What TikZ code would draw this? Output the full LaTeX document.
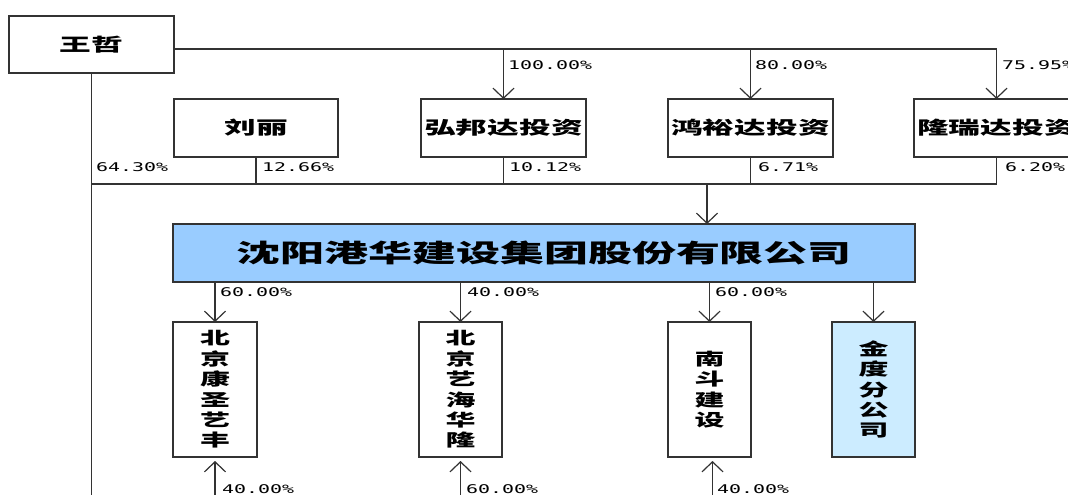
\documentclass[tikz,border=0pt]{standalone}
\usepackage{fontspec}
\usetikzlibrary{arrows.meta}
\newfontfamily\cjk{Noto Sans CJK SC}[FakeStretch=1.76]
\newfontfamily\pctf{DejaVu Sans Mono}[FakeStretch=1.66]
\definecolor{bigblue}{HTML}{99CCFF}
\definecolor{paleblue}{HTML}{CCECFF}
\definecolor{lncol}{HTML}{333333}
\begin{document}
\begin{tikzpicture}[x=1pt,y=-1pt,
  ln/.style={draw=lncol,line width=1.2pt},
  arr/.style={-{Straight Barb[length=10pt,width=21pt]}},
  hbox/.style={draw=lncol,line width=1.2pt,fill=white,inner sep=0pt,outer sep=0pt,
    anchor=north west,minimum height=58pt,minimum width=165pt,
    font=\cjk\bfseries\fontsize{18}{20}\selectfont},
  vbox/.style={draw=lncol,line width=1.2pt,fill=white,inner sep=0pt,outer sep=0pt,
    anchor=north west,minimum height=135pt,minimum width=84pt,align=center,
    font=\cjk\bfseries\fontsize{17}{20.4}\selectfont},
  bigbox/.style={draw=lncol,line width=1.2pt,fill=bigblue,inner sep=0pt,outer sep=0pt,
    anchor=north west,minimum height=58pt,minimum width=742pt,
    font=\cjk\bfseries\fontsize{25}{28}\selectfont},
  pct/.style={anchor=west,inner sep=0pt,font=\pctf\fontsize{12}{14}\selectfont}
]
\useasboundingbox (0,0) rectangle (1068,495);
\fill[white] (0,0) rectangle (1068,495);
\clip (0,0) rectangle (1068,495);

% helper levels
\coordinate (ytop) at (0,49);
\coordinate (yj) at (0,184);
\coordinate (ybot) at (0,500);
\coordinate (xj) at (707,0);

% nodes
\node[hbox,minimum height=57pt] (wz) at (9,16) {王哲};
\node[hbox,minimum width=164pt] (ll) at (174,99) {刘丽};
\node[hbox] (hbd) at (421,99) {弘邦达投资};
\node[hbox] (hyd) at (668,99) {鸿裕达投资};
\node[hbox] (lrd) at (914,99) {隆瑞达投资};

\node[bigbox] (big) at (173,224) {沈阳港华建设集团股份有限公司};

\node[vbox] (s1) at (173,322) {北\\京\\康\\圣\\艺\\丰};
\node[vbox,minimum width=83pt] (s2) at (419,322) {北\\京\\艺\\海\\华\\隆};
\node[vbox,minimum width=83pt] (s3) at (668,322) {南\\斗\\建\\设};
\node[vbox,minimum width=83pt,fill=paleblue] (s4) at (832,322) {金\\度\\分\\公\\司};

% top connectors from 王哲
\draw[ln,arr] (wz.east|-ytop) -- (lrd.north|-ytop) -- (lrd.north);
\draw[ln,arr] (hbd.north|-ytop) -- (hbd.north);
\draw[ln,arr] (hyd.north|-ytop) -- (hyd.north);

% left vertical line of 王哲
\draw[ln] (wz.south) -- (wz.south|-ybot);

% join line
\draw[ln] (wz.south|-yj) -- (lrd.south|-yj) -- (lrd.south);
\draw[ln] (ll.south) -- (ll.south|-yj);
\draw[ln] (hbd.south) -- (hbd.south|-yj);
\draw[ln] (hyd.south) -- (hyd.south|-yj);
\draw[ln,arr] (xj|-yj) -- (xj|-big.north);

% to subsidiaries
\draw[ln,arr] (s1.north|-big.south) -- (s1.north);
\draw[ln,arr] (s2.north|-big.south) -- (s2.north);
\draw[ln,arr] (s3.north|-big.south) -- (s3.north);
\draw[ln,arr] (s4.north|-big.south) -- (s4.north);

% from below
\draw[ln,arr] (s1.south|-ybot) -- ([yshift=-4pt]s1.south);
\draw[ln,arr] (s2.south|-ybot) -- ([yshift=-4pt]s2.south);
\draw[ln,arr] ([xshift=3pt]s3.south|-ybot) -- ([xshift=3pt,yshift=-4pt]s3.south);

% percentage labels
\node[pct] (p1) at (508,65) {100.00\%};
\node[pct] (p2) at (755,65) {80.00\%};
\node[pct] (p3) at (1002,65) {75.95\%};
\node[pct] (p4) at (96,167) {64.30\%};
\node[pct] (p5) at (262,167) {12.66\%};
\node[pct] (p6) at (509,167) {10.12\%};
\node[pct] (p7) at (758,167) {6.71\%};
\node[pct] (p8) at (1005,167) {6.20\%};
\node[pct] (p9) at (220,292) {60.00\%};
\node[pct] (p10) at (467,292) {40.00\%};
\node[pct] (p11) at (715,292) {60.00\%};
\node[pct] (p12) at (222,489) {40.00\%};
\node[pct] (p13) at (466,489) {60.00\%};
\node[pct] (p14) at (717,489) {40.00\%};
\end{tikzpicture}
\end{document}
